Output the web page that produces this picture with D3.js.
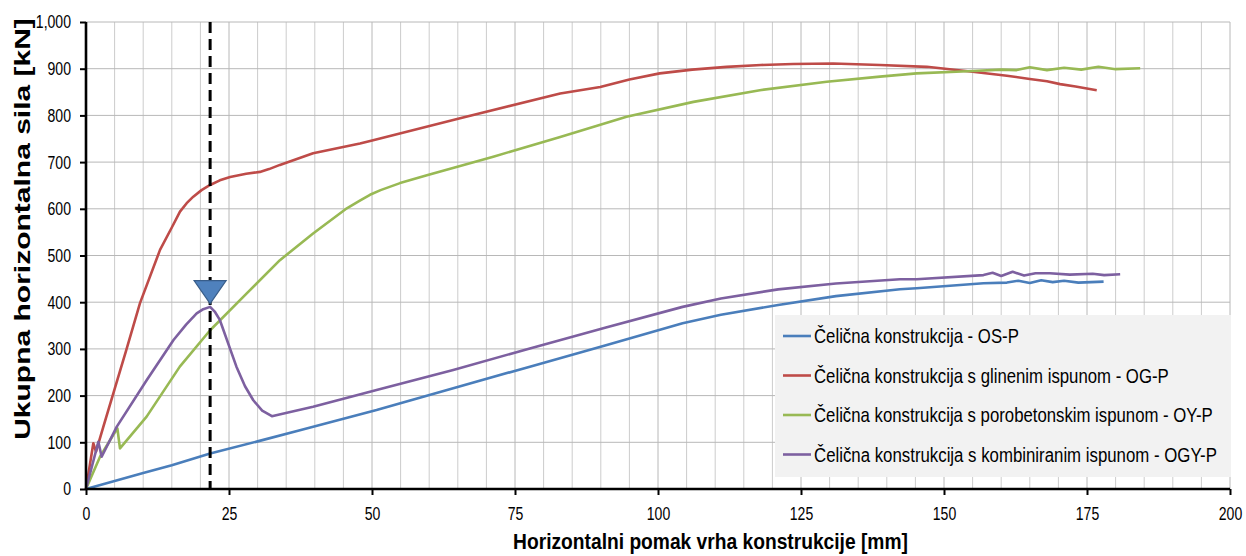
<!DOCTYPE html>
<html><head><meta charset="utf-8">
<script src="https://cdn.jsdelivr.net/npm/d3@7"></script>
<style>
html,body{margin:0;padding:0;background:#fff;}
text{font-family:"Liberation Sans",Arial,sans-serif;}
</style></head>
<body>
<svg id="chart" width="1246" height="556"></svg>
<script>
// ---- data ----
const seriesNames = [
  "Čelična konstrukcija - OS-P",
  "Čelična konstrukcija s glinenim ispunom - OG-P",
  "Čelična konstrukcija s porobetonskim ispunom - OY-P",
  "Čelična konstrukcija s kombiniranim ispunom - OGY-P"
];
const seriesColors = ["#4a7ebb", "#be4b48", "#98b954", "#7d60a0"];

const osX = [0, 5, 10, 15, 21.7, 30, 37.4, 50.8, 64.2, 77.6, 90.9, 104.3, 111, 121, 131.1, 142.3, 145.2, 156.9, 161, 163, 165, 167, 169, 171, 173.5, 177.9];
const osY = [0, 17, 34, 51, 76, 102, 126, 169, 216, 262, 308, 355, 373, 394, 413, 427.6, 430, 440.5, 442, 446, 441, 447, 443, 446, 442, 444];

const ogX = [0, 1.28, 1.75, 3, 5, 7, 9.44, 12.94, 15, 16.43, 17.6, 18.76, 20.2, 21.7, 23.4, 25.2, 28, 30.4, 32, 33.9, 39.7, 47.9, 50.2, 65.4, 82.9, 89.9, 95, 100.3, 106, 112, 118, 123.6, 130.6, 138.8, 147, 155, 161, 165, 168, 170.3, 173, 176.7];
const ogY = [0, 98, 80, 132, 214, 296, 398, 512, 560, 594, 612, 626, 640, 651, 661, 668, 675, 679, 685, 694, 719, 740, 747, 794, 847, 861, 877, 890, 898, 904, 908, 910, 911, 908, 904, 893.6, 885, 878, 873, 867, 862, 854];

const oyX = [0, 2.45, 5.48, 5.94, 10.6, 16.4, 21.7, 28.1, 33.9, 39.7, 45.6, 47.8, 49.65, 51.5, 54.9, 59.6, 71.2, 82.9, 94.5, 106.2, 117.8, 129.5, 138.8, 145.2, 155.1, 160, 162.7, 165, 168, 171, 174, 177, 180, 184.3];
const oyY = [0, 69, 130, 87, 155, 262, 340, 419, 490, 547, 601, 617, 630, 640, 655, 672, 711.6, 754, 797, 829, 854, 872, 883, 890, 895, 898, 897, 903, 897, 902, 898, 904, 899, 901];

const ogyX = [0, 2.16, 2.74, 5.36, 10.6, 15.3, 17.5, 19.35, 20.5, 21.7, 22.5, 23.4, 26.3, 27.8, 29.25, 30.8, 32.5, 34, 39.7, 50.8, 64.2, 77.6, 90.9, 104.3, 111, 121, 131.1, 142.3, 145.2, 156.9, 158.5, 160, 162, 164, 166, 168.5, 172, 176, 178, 180.8];
const ogyY = [0, 101, 69, 133, 233, 319, 352, 376, 385, 390, 380, 362, 262, 220, 190, 168, 156, 160, 176, 212, 255, 301, 346, 390, 408, 427.5, 440, 449, 449, 458, 463, 456, 465, 457, 462, 462, 459, 461, 458, 460];

const markerX = [21.7];
const markerY = [397];
const dashX = 21.7;

const xTicks = [0, 25, 50, 75, 100, 125, 150, 175, 200];
const yTicks = [0, 100, 200, 300, 400, 500, 600, 700, 800, 900, 1000];
const xTitle = "Horizontalni pomak vrha konstrukcije [mm]";
const yTitle = "Ukupna horizontalna sila [kN]";

// ---- chart ----
const svg = d3.select("#chart");
const x = d3.scaleLinear().domain([0, 200]).range([86, 1230]);
const y = d3.scaleLinear().domain([0, 1000]).range([489, 22]);

// squeeze a text horizontally with a transform (keeps its anchor point fixed)
function squeezeAt(textSel, px, py, width) {
  const w = textSel.node().getComputedTextLength();
  const f = width / w;
  textSel.attr("x", 0).attr("y", 0)
    .attr("transform", `translate(${px},${py}) scale(${f},1)`);
}

// grid
const grid = svg.append("g");
grid.selectAll("line.v").data(d3.range(5, 201, 5)).join("line")
  .attr("x1", d => x(d)).attr("x2", d => x(d))
  .attr("y1", y(0)).attr("y2", y(1000))
  .attr("stroke", d => d % 25 === 0 ? "#b8b8b8" : "#cccccc").attr("stroke-width", 1);
grid.selectAll("line.h").data(yTicks.slice(1)).join("line")
  .attr("x1", x(0)).attr("x2", x(200))
  .attr("y1", d => y(d)).attr("y2", d => y(d))
  .attr("stroke", "#b8b8b8").attr("stroke-width", 1);

// series
const allSeries = [[osX, osY], [ogX, ogY], [oyX, oyY], [ogyX, ogyY]];
const line = d3.line().x(d => x(d[0])).y(d => y(d[1]));
allSeries.forEach((s, i) => {
  const pts = s[0].map((v, k) => [v, s[1][k]]);
  svg.append("path").datum(pts).attr("d", line)
    .attr("fill", "none").attr("stroke", seriesColors[i])
    .attr("stroke-width", 2.6).attr("stroke-linejoin", "round");
});

// dashed line
svg.append("line")
  .attr("x1", x(dashX)).attr("x2", x(dashX))
  .attr("y1", y(1000)).attr("y2", y(0))
  .attr("stroke", "#000").attr("stroke-width", 3).attr("stroke-dasharray", "11,6");

// triangle marker (tip at data point)
markerX.forEach((mx, i) => {
  const px = x(mx), py = y(markerY[i]);
  svg.append("path")
    .attr("d", `M${px - 16},${py - 23} L${px + 16},${py - 23} L${px},${py} Z`)
    .attr("fill", "#4f81bd").attr("stroke", "#385d8a").attr("stroke-width", 1.2);
});

// legend
const lg = svg.append("g");
lg.append("rect").attr("x", 775).attr("y", 315).attr("width", 456).attr("height", 162)
  .attr("fill", "#f2f2f2");
const legY = [336, 375.5, 415, 454.5];
const legW = [205, 355, 399, 403];
seriesNames.forEach((n, i) => {
  lg.append("line").attr("x1", 783).attr("x2", 811)
    .attr("y1", legY[i]).attr("y2", legY[i])
    .attr("stroke", seriesColors[i]).attr("stroke-width", 2.6);
  const t = lg.append("text").attr("dy", "0.36em")
    .attr("font-size", 20).attr("fill", "#000").text(n);
  squeezeAt(t, 814, legY[i], legW[i]);
});

// axes
const yAxis = svg.append("g").attr("transform", `translate(${x(0)},0)`)
  .call(d3.axisLeft(y).tickValues(yTicks).tickFormat(d3.format(",")).tickSize(6).tickPadding(9));
const xAxis = svg.append("g").attr("transform", `translate(0,${y(0)})`)
  .call(d3.axisBottom(x).tickValues(xTicks).tickFormat(d3.format("d")).tickSize(6).tickPadding(12));
const tickF = 0.76;
[yAxis, xAxis].forEach(a => {
  a.select(".domain").attr("stroke", "#000").attr("stroke-width", 2.6);
  a.selectAll(".tick line").attr("stroke", "#000").attr("stroke-width", 2);
  a.selectAll("text").attr("font-size", 18.5).attr("fill", "#000")
    .style("font-family", '"Liberation Sans", Arial, sans-serif');
});
yAxis.selectAll(".tick text").attr("x", -15 / tickF).attr("transform", `scale(${tickF},1)`);
xAxis.selectAll(".tick text").attr("transform", `scale(${tickF},1)`);
yAxis.select(".domain").attr("d", `M0,${y(0)}V${y(1000)}`);
xAxis.select(".domain").attr("d", `M${x(0)},0H${x(200)}`);

// titles
const xt = svg.append("text").attr("dy", "0.35em")
  .attr("text-anchor", "middle").attr("font-size", 22).attr("font-weight", "bold").text(xTitle);
squeezeAt(xt, 710.5, 541, 395);
const ytg = svg.append("g").attr("transform", "translate(22,229) rotate(-90)");
const yt = ytg.append("text").attr("dy", "0.35em")
  .attr("text-anchor", "middle").attr("font-size", 22).attr("font-weight", "bold").text(yTitle);
squeezeAt(yt, 0, 0, 422);
</script>
</body></html>
